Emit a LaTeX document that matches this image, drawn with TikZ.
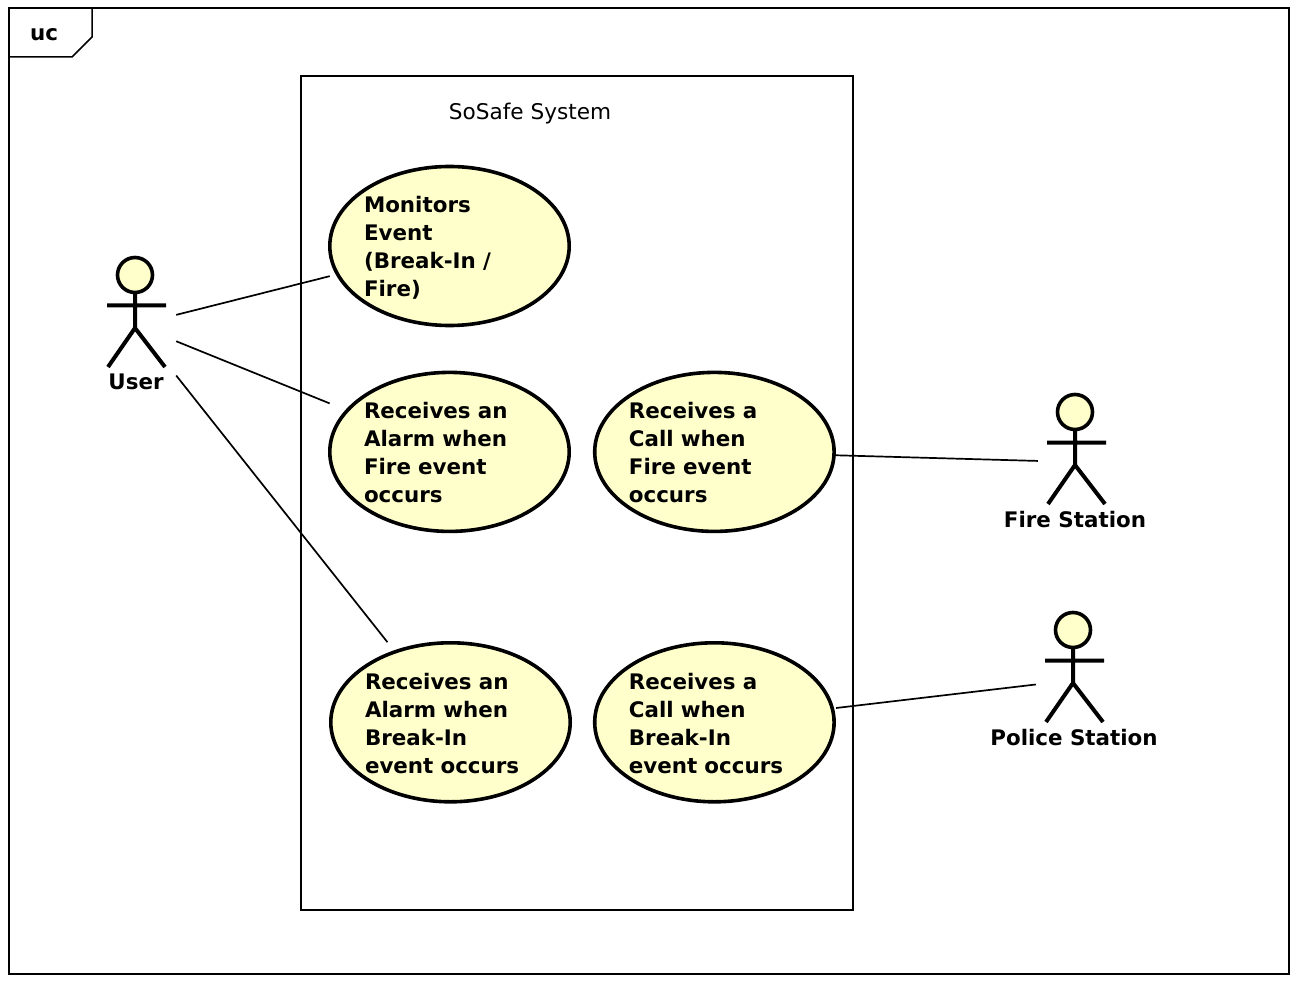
\documentclass[tikz,border=0pt]{standalone}
\usepackage{fontspec}
\setmainfont{DejaVu Sans}
\usetikzlibrary{positioning}
\definecolor{ucyellow}{HTML}{FFFFCC}

\begin{document}
\begin{tikzpicture}[x=1pt, y=-1pt,
    boxnode/.style={rectangle, draw=black, line width=1.9pt, inner sep=0pt},
    usecase/.style={rectangle, inner ysep=0pt, inner xsep=36pt, text width=171pt, minimum height=163pt, align=left, font=\fontsize{21.4}{28}\selectfont\bfseries,
        execute at begin node={\rule{0pt}{20pt}}, execute at end node={\rule[-2pt]{0pt}{2pt}},
        path picture={\draw[fill=ucyellow, line width=3.6pt] (path picture bounding box.center) ellipse (119.7pt and 79.5pt);}},
    actor/.style={rectangle, minimum width=80pt, minimum height=140pt, inner sep=0pt,
        path picture={\begin{scope}[shift={(path picture bounding box.center)}, line width=4pt]
            \draw[fill=ucyellow, line width=3.6pt] (-1,-50) circle (17.5pt);
            \draw (-1,-32) -- (-1,3) (-29,-19.5) -- (30,-19.5) (-28,42) -- (-1,3) -- (29,42);
        \end{scope}}},
    actorname/.style={font=\fontsize{21.4}{28}\selectfont\bfseries},
    assoc/.style={line width=1.7pt, shorten >=-2pt}]
    \useasboundingbox (0,0) rectangle (1296,984);

    %Frames
    \node[boxnode, minimum width=1280pt, minimum height=966pt] (frame) at (649,491) {};
    \node[boxnode, minimum width=552pt, minimum height=834pt] (system) at (577,493) {};
    \node[font=\fontsize{21.6}{28}\selectfont] (systemname) at (530,114) {SoSafe System};
    \node[font=\fontsize{21.4}{28}\selectfont\bfseries] (tabname) at (44,35) {uc};
    \coordinate (tabtop) at (92,8);
    \coordinate (tableft) at (9,57);
    \draw[line width=1.5pt] (tabtop) -- (92,37) -- (72,57) -- (tableft);

    %Nodes
    \node[usecase] (monitors) at (449.5,246) {Monitors\\Event\\(Break-In /\\Fire)};
    \node[usecase] (alarmfire) [below=42.5pt of monitors] {Receives an\\Alarm when\\Fire event\\occurs};
    \node[usecase] (callfire) [right=21.5pt of alarmfire] {Receives a\\Call when\\Fire event\\occurs};
    \node[usecase] (alarmbreak) [below=107pt of alarmfire, xshift=1pt] {Receives an\\Alarm when\\Break-In\\event occurs};
    \node[usecase] (callbreak) [below=107pt of callfire] {Receives a\\Call when\\Break-In\\event occurs};
    \node[actor] (user) at (136,325) {};
    \node[actor] (firestation) at (1076,462) {};
    \node[actor] (policestation) at (1074,680) {};
    \node[actorname] (username) at (136,382) {User};
    \node[actorname] (firename) at (1075,520) {Fire Station};
    \node[actorname] (policename) at (1074,738) {Police Station};

    %Lines
    \draw[assoc] (user) -- (monitors);
    \draw[assoc] (user) -- (alarmfire);
    \draw[assoc] (user) -- (alarmbreak);
    \draw[assoc] (callfire) -- (firestation);
    \draw[assoc] (callbreak) -- (policestation);

\end{tikzpicture}
\end{document}
